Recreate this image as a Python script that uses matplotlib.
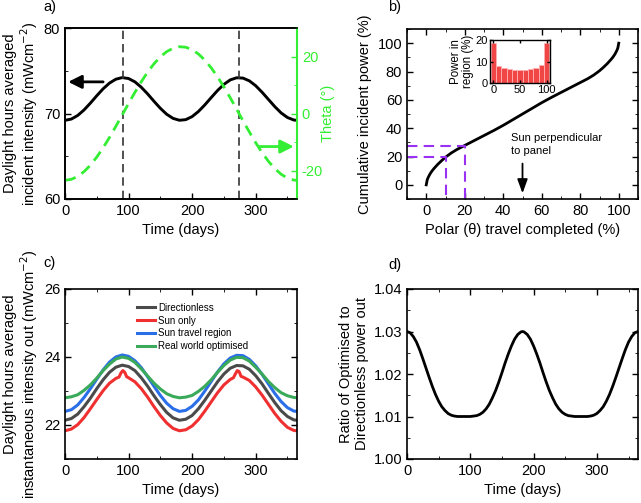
import matplotlib
matplotlib.use("Agg")
import matplotlib.pyplot as plt
from matplotlib.ticker import MultipleLocator, FormatStrFormatter

plt.rcParams['font.family'] = ['Liberation Sans', 'DejaVu Sans']
plt.rcParams['font.size'] = 10.5
plt.rcParams['axes.unicode_minus'] = False
plt.rcParams['axes.linewidth'] = 1.2
plt.rcParams['xtick.direction'] = 'in'
plt.rcParams['ytick.direction'] = 'in'
plt.rcParams['xtick.major.size'] = 4
plt.rcParams['ytick.major.size'] = 4
plt.rcParams['xtick.minor.size'] = 2.5
plt.rcParams['ytick.minor.size'] = 2.5
plt.rcParams['xtick.major.width'] = 1.0
plt.rcParams['ytick.major.width'] = 1.0

# ---------------- data ----------------
days = [0, 10, 20, 30, 40, 50, 60, 70, 80, 90, 100, 110, 120, 130, 140, 150, 160, 170, 180,
        190, 200, 210, 220, 230, 240, 250, 260, 270, 280, 290, 300, 310, 320, 330, 340, 350, 360, 365]

incident_intensity = [69.20, 69.35, 69.77, 70.42, 71.22, 72.08, 72.89, 73.56, 74.01, 74.20,
                      74.09, 73.70, 73.07, 72.29, 71.43, 70.61, 69.91, 69.43, 69.21, 69.28,
                      69.64, 70.24, 71.01, 71.86, 72.69, 73.41, 73.93, 74.18, 74.14, 73.82,
                      73.25, 72.49, 71.65, 70.81, 70.07, 69.53, 69.24, 69.20]

theta = [-23.45, -23.10, -22.07, -20.39, -18.11, -15.28, -12.01, -8.39, -4.51, -0.50,
         3.52, 7.44, 11.14, 14.51, 17.45, 19.88, 21.71, 22.91, 23.43, 23.26,
         22.39, 20.87, 18.73, 16.04, 12.87, 9.32, 5.50, 1.51, -2.52, -6.47,
         -10.24, -13.71, -16.76, -19.32, -21.31, -22.67, -23.36, -23.45]

equinox_days = [91, 274]

travel_pct = [0, 0.5, 1, 2, 3, 4, 6, 8, 10, 13, 16, 20, 25, 30, 35, 40, 45, 50,
              55, 60, 65, 70, 75, 80, 84, 87, 90, 92, 94, 96, 97, 98, 99, 99.5, 100]
cumulative_power = [0, 3.5, 5.2, 7.8, 9.8, 11.5, 14.5, 17.1, 19.5, 22.5, 25.0, 27.8, 31.3, 34.8,
                    38.3, 42.0, 46.0, 50.0, 54.0, 58.0, 61.7, 65.2, 68.7, 72.2, 75.0, 77.5,
                    80.5, 82.9, 85.5, 88.5, 90.2, 92.2, 94.8, 96.5, 100]
guide_x = [10, 20]
guide_y = [19.5, 27.7]
sun_perp_x = 50

region_centres = [0, 10, 20, 30, 40, 50, 60, 70, 80, 90, 100]
power_in_region = [18.8, 8.1, 7.0, 6.4, 6.0, 5.9, 6.0, 6.3, 7.0, 8.4, 18.8]

directionless = [22.14, 22.19, 22.32, 22.54, 22.79, 23.07, 23.33, 23.55, 23.70, 23.76,
                 23.72, 23.60, 23.39, 23.14, 22.86, 22.60, 22.37, 22.21, 22.14, 22.17,
                 22.28, 22.48, 22.73, 23.00, 23.27, 23.50, 23.67, 23.75, 23.74, 23.64,
                 23.45, 23.21, 22.93, 22.66, 22.42, 22.25, 22.15, 22.14]

sun_days = [0, 10, 20, 30, 40, 50, 60, 70, 80, 85, 88, 91, 94, 97, 100, 110, 120, 130, 140,
            150, 160, 170, 180, 190, 200, 210, 220, 230, 240, 250, 260, 265, 268, 271, 274,
            277, 280, 290, 300, 310, 320, 330, 340, 350, 360, 365]
sun_only = [21.83, 21.88, 22.01, 22.22, 22.48, 22.75, 23.01, 23.23, 23.37, 23.41, 23.53,
            23.60, 23.55, 23.42, 23.39, 23.27, 23.07, 22.82, 22.54, 22.28, 22.06, 21.90,
            21.83, 21.86, 21.97, 22.16, 22.41, 22.68, 22.95, 23.18, 23.34, 23.39, 23.50,
            23.60, 23.57, 23.43, 23.41, 23.31, 23.12, 22.88, 22.61, 22.34, 22.11, 21.93,
            21.84, 21.83]

sun_travel = [22.40, 22.45, 22.59, 22.81, 23.07, 23.35, 23.62, 23.85, 24.00, 24.06,
              24.02, 23.89, 23.69, 23.42, 23.14, 22.87, 22.64, 22.48, 22.40, 22.43,
              22.55, 22.74, 23.00, 23.28, 23.56, 23.80, 23.97, 24.05, 24.04, 23.93,
              23.74, 23.49, 23.21, 22.93, 22.69, 22.51, 22.41, 22.40]

real_world = [22.80, 22.83, 22.89, 23.02, 23.18, 23.38, 23.60, 23.79, 23.94, 24.00,
              23.96, 23.84, 23.65, 23.44, 23.23, 23.06, 22.92, 22.84, 22.80, 22.82,
              22.87, 22.99, 23.14, 23.33, 23.55, 23.75, 23.91, 23.99, 23.98, 23.88,
              23.70, 23.50, 23.28, 23.10, 22.95, 22.86, 22.81, 22.80]

ratio_days = [0, 5, 10, 15, 20, 25, 30, 35, 40, 45, 50, 55, 60, 65, 70, 75, 80, 85, 90, 95,
              100, 105, 110, 115, 120, 125, 130, 135, 140, 145, 150, 155, 160, 165, 170, 175,
              180, 182.5, 185, 190, 195, 200, 205, 210, 215, 220, 225, 230, 235, 240, 245,
              250, 255, 260, 265, 270, 275, 280, 285, 290, 295, 300, 305, 310, 315, 320, 325,
              330, 335, 340, 345, 350, 355, 360, 365]
ratio = [1.0300, 1.0297, 1.0288, 1.0275, 1.0257, 1.0236, 1.0214, 1.0192, 1.0171, 1.0152,
         1.0136, 1.0123, 1.0114, 1.0107, 1.0103, 1.0101, 1.0100, 1.0100, 1.0100, 1.0100,
         1.0100, 1.0101, 1.0102, 1.0105, 1.0110, 1.0118, 1.0129, 1.0144, 1.0161, 1.0181,
         1.0203, 1.0226, 1.0247, 1.0266, 1.0282, 1.0293, 1.0299, 1.0300, 1.0299, 1.0293,
         1.0282, 1.0266, 1.0247, 1.0226, 1.0203, 1.0181, 1.0161, 1.0144, 1.0129, 1.0118,
         1.0110, 1.0105, 1.0102, 1.0101, 1.0100, 1.0100, 1.0100, 1.0100, 1.0100, 1.0101,
         1.0103, 1.0107, 1.0114, 1.0123, 1.0136, 1.0152, 1.0171, 1.0192, 1.0214, 1.0236,
         1.0257, 1.0275, 1.0288, 1.0297, 1.0300]

series_labels = ['Directionless', 'Sun only', 'Sun travel region', 'Real world optimised']
series_colors = ['#4a4a4a', '#f03030', '#2a6ee8', '#3aaa5a']

# ---------------- figure ----------------
fig = plt.figure(figsize=(6.41, 5.03), dpi=100)
W, H = 641, 503

def px_axes(l, t, r, b):
    return fig.add_axes([l / W, 1 - b / H, (r - l) / W, (b - t) / H])

def time_axis(ax):
    ax.set_xlim(0, 365)
    ax.xaxis.set_major_locator(MultipleLocator(100))
    ax.xaxis.set_minor_locator(MultipleLocator(50))
    ax.set_xlabel('Time (days)')

# ---- a ----
axa = px_axes(65, 28, 297, 199)
axa.plot(days, incident_intensity, color='black', lw=2.1)
for d in equinox_days:
    axa.axvline(d, color='#333333', lw=1.2, ls=(0, (5, 3)))
axa.set_ylim(60, 80)
axa.yaxis.set_major_locator(MultipleLocator(10))
axa.yaxis.set_minor_locator(MultipleLocator(5))
time_axis(axa)
axa.set_ylabel('Daylight hours averaged\nincident intensity (mWcm$^{-2}$)', linespacing=1.1)
axa.yaxis.set_label_coords(-0.108, 0.5)
axa.annotate('', xy=(5, 73.7), xytext=(60, 73.7),
             arrowprops=dict(arrowstyle='-|>,head_length=0.5,head_width=0.25',
                             color='black', lw=2, mutation_scale=16,
                             shrinkA=0, shrinkB=0))

green = '#33ee33'
axa2 = axa.twinx()
axa2.plot(days, theta, color=green, lw=2, ls=(0, (4, 2.5)))
axa2.set_ylim(-30, 30)
axa2.yaxis.set_major_locator(MultipleLocator(20))
axa2.yaxis.set_minor_locator(MultipleLocator(10))
axa2.tick_params(axis='y', colors=green, which='both')
axa2.spines['right'].set_color(green)
axa2.spines['right'].set_linewidth(1.5)
axa2.set_ylabel('Theta (°)', color=green)
axa2.yaxis.set_label_coords(1.103, 0.5)
axa2.annotate('', xy=(360, -11.6), xytext=(306, -11.6),
              arrowprops=dict(arrowstyle='-|>,head_length=0.5,head_width=0.25',
                              color=green, lw=2, mutation_scale=16,
                              shrinkA=0, shrinkB=0))

# ---- b ----
axb = px_axes(407, 29, 638, 199)
axb.plot(travel_pct, cumulative_power, color='black', lw=2)
purple = '#9b30f5'
for gx, gy in zip(guide_x, guide_y):
    axb.plot([-10, gx, gx], [gy, gy, -10], color=purple, lw=1.5, ls=(0, (5, 3)))
axb.set_xlim(-10, 110)
axb.set_ylim(-10, 110)
axb.xaxis.set_minor_locator(MultipleLocator(10))
axb.yaxis.set_minor_locator(MultipleLocator(10))
axb.set_xticks([0, 20, 40, 60, 80, 100])
axb.set_yticks([0, 20, 40, 60, 80, 100])
axb.tick_params(which='both', top=True, right=True)
axb.set_xlabel('Polar (θ) travel completed (%)')
axb.set_ylabel('Cumulative incident power (%)')
axb.yaxis.set_label_coords(-0.15, 0.5)
axb.annotate('', xy=(sun_perp_x, -6), xytext=(sun_perp_x, 15),
             arrowprops=dict(arrowstyle='-|>,head_length=0.6,head_width=0.22',
                             color='black', lw=1.3, mutation_scale=14,
                             shrinkA=0, shrinkB=0))
axb.text(44.2, 28.5, 'Sun perpendicular\nto panel', fontsize=8, ha='left', va='center',
         linespacing=1.35)

axi = px_axes(490, 40, 550, 83)
axi.bar(region_centres, power_in_region, width=10, color='#f04646', edgecolor='#ffb0b0',
        linewidth=0.6)
axi.set_xlim(-6, 106)
axi.set_ylim(0, 20)
axi.set_xticks([0, 50, 100])
axi.set_yticks([0, 10, 20])
axi.tick_params(labelsize=8, length=2.5, pad=1.5, top=True, right=True)
axi.set_ylabel('Power in\nregion (%)', fontsize=8.3, labelpad=1, linespacing=1.0)
for s in axi.spines.values():
    s.set_linewidth(1.0)

# ---- c ----
axc = px_axes(65, 289, 297, 459)
for x, y, lab, col in zip([days, sun_days, days, days],
                          [directionless, sun_only, sun_travel, real_world],
                          series_labels, series_colors):
    axc.plot(x, y, color=col, lw=2.2, label=lab)
axc.set_ylim(21, 26)
axc.yaxis.set_major_locator(MultipleLocator(2))
axc.yaxis.set_minor_locator(MultipleLocator(1))
time_axis(axc)
axc.tick_params(which='both', top=True, right=True)
axc.set_ylabel('Daylight hours averaged\ninstantaneous intensity out (mWcm$^{-2}$)',
               linespacing=1.1)
axc.yaxis.set_label_coords(-0.108, 0.5)
axc.legend(loc='upper left', bbox_to_anchor=(0.31, 0.92), frameon=False, fontsize=7,
           handlelength=1.85, handletextpad=0.3, labelspacing=0.3, borderaxespad=0,
           borderpad=0)

# ---- d ----
axd = px_axes(407, 289, 638, 459)
axd.plot(ratio_days, ratio, color='black', lw=2)
axd.set_ylim(1.00, 1.04)
axd.yaxis.set_major_locator(MultipleLocator(0.01))
axd.yaxis.set_minor_locator(MultipleLocator(0.005))
axd.yaxis.set_major_formatter(FormatStrFormatter('%.2f'))
time_axis(axd)
axd.tick_params(which='both', top=True, right=True)
axd.set_ylabel('Ratio of Optimised to\nDirectionless power out')
axd.yaxis.set_label_coords(-0.165, 0.5)

# panel letters
for lab, x, y in [('a)', 43, 7), ('b)', 388, 7), ('c)', 43, 263), ('d)', 388, 265)]:
    fig.text(x / W, 1 - y / H, lab, ha='left', va='center', fontsize=10.5)

fig.savefig('out.png', dpi=100)
